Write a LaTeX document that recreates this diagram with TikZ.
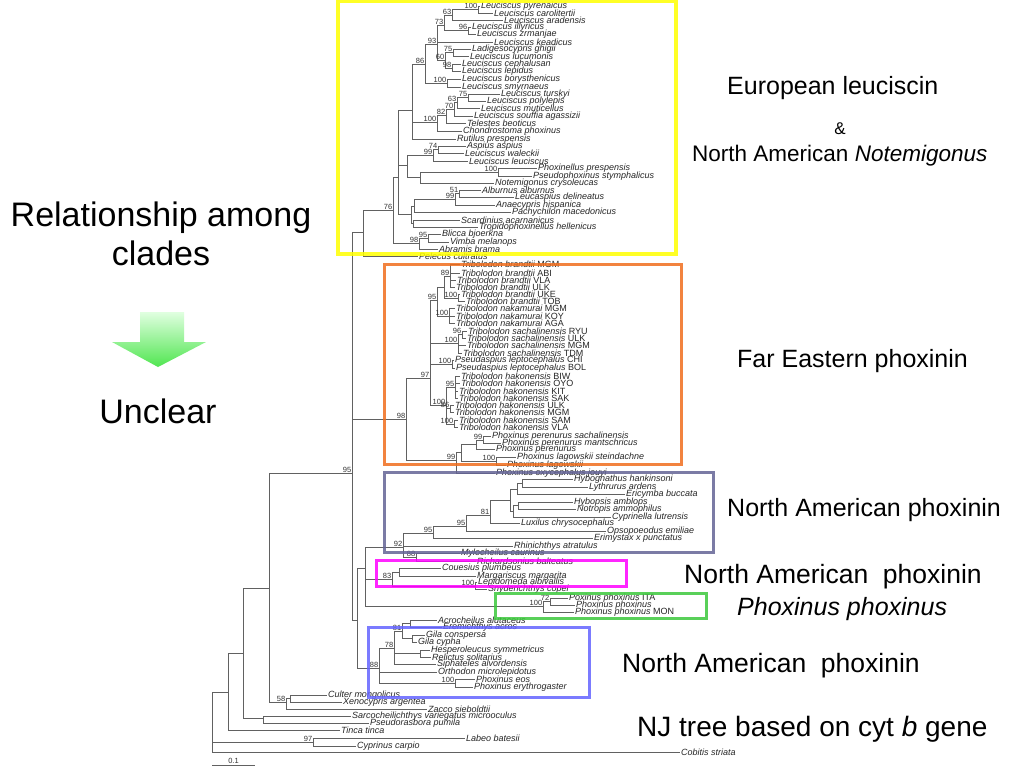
\documentclass[tikz,border=0pt]{standalone}
\usepackage{fontspec}
\setmainfont{Liberation Sans}
\usetikzlibrary{calc}
\definecolor{cyel}{RGB}{255,255,0}
\definecolor{cora}{RGB}{240,110,30}
\definecolor{cpur}{RGB}{100,100,150}
\definecolor{cmag}{RGB}{255,0,255}
\definecolor{cgrn}{RGB}{60,200,60}
\definecolor{cblu}{RGB}{100,100,255}
\newcommand\leafx[5]{\node[leaf] (#1) at (#3,#4) {#5}; \draw[br] (#2) |- (#1.west);}
\newcommand\edgex[2]{\draw[br] (#1) |- (#2);}
\newcommand\bootx[2]{\node[bsn] (#1bs) at (#1) {#2};}
\tikzset{
 br/.style={draw=black!62, line width=0.7pt},
 leaf/.style={anchor=west, inner sep=0.8pt, font=\fontsize{9}{9}\selectfont\itshape, text=black!85},
 bsn/.style={anchor=south east, inner sep=0.6pt, font=\fontsize{7.5}{7.5}\selectfont, text=black!80},
 big/.style={anchor=base west, inner sep=0pt, font=\fontsize{25}{30}\selectfont},
 bigl/.style={anchor=base, inner sep=0pt, font=\fontsize{34}{40}\selectfont},
 clade/.style={line width=3pt, draw opacity=0.85}
}
\begin{document}
\begin{tikzpicture}[x=1pt,y=-1pt]
\useasboundingbox (0,0) rectangle (1024,768);
\fill[white] (0,0) rectangle (1024,768);
% ---------- internal nodes
\coordinate (n100a) at (478,9);
\coordinate (n63) at (452,15);
\coordinate (n96) at (468,30);
\coordinate (n73) at (444,25);
\coordinate (n75) at (453,52);
\coordinate (n98) at (452,68);
\coordinate (n60) at (445,60);
\coordinate (n93) at (437,44);
\coordinate (n100b) at (447,83);
\coordinate (n86) at (425,64);
\coordinate (n75b) at (468,97);
\coordinate (n63b) at (457,102);
\coordinate (n70) at (454,109);
\coordinate (n82) at (446,115);
\coordinate (n100c) at (437,122);
\coordinate (nM) at (412,110);
\coordinate (n74) at (438,149);
\coordinate (n99a) at (433,155);
\coordinate (n100d) at (498,172);
\coordinate (nQ) at (420,177);
\coordinate (nP) at (407,165);
\coordinate (n51) at (459,193);
\coordinate (n99b) at (455,199);
\coordinate (nS) at (414,206);
\coordinate (nT) at (413,223);
\coordinate (nR) at (411,214);
\coordinate (nJ) at (398,177);
\coordinate (n95y) at (428,238);
\coordinate (n98y) at (419,243);
\coordinate (n76) at (393,210);
\coordinate (nG) at (363,232);
\coordinate (nF) at (352,473);
% orange
\coordinate (nB89) at (450,276);
\coordinate (nB100) at (458,298);
\coordinate (nBb) at (444,287);
\coordinate (nN100) at (449,316);
\coordinate (nT95) at (437,300);
\coordinate (nS96) at (462,334);
\coordinate (nS100) at (458,343);
\coordinate (nP100) at (452,364);
\coordinate (nH95) at (455,387);
\coordinate (nH86) at (450,408);
\coordinate (nH100b) at (454,424);
\coordinate (nH100) at (446,405);
\coordinate (nO97) at (430,378);
\coordinate (nP99) at (483,440);
\coordinate (nPp) at (476,444);
\coordinate (nL100) at (496,461);
\coordinate (nPq) at (461,452);
\coordinate (nO99) at (456,460);
\coordinate (nO98) at (406,419);
% purple
\coordinate (nHh) at (522,483);
\coordinate (nHe) at (517,489);
\coordinate (nHn2) at (518,505);
\coordinate (nHn) at (513,511);
\coordinate (nW) at (510,500);
\coordinate (n81) at (490,515);
\coordinate (n95b) at (466,526);
\coordinate (n95a) at (433,533);
\coordinate (n88) at (416,557);
\coordinate (n92) at (403,547);
% magenta / green
\coordinate (n83a) at (399,572);
\coordinate (n100m) at (475,586);
\coordinate (n83) at (392,579);
\coordinate (n72) at (550,601);
\coordinate (n100g) at (543,606);
\coordinate (nV) at (365,568);
% blue
\coordinate (nAE) at (410,623);
\coordinate (nGila) at (412,638);
\coordinate (n81b) at (402,631);
\coordinate (nHR) at (420,653);
\coordinate (n78) at (394,648);
\coordinate (n100e) at (455,683);
\coordinate (n88b) at (379,668);
\coordinate (nU) at (357,620);
% lower
\coordinate (nCX) at (290,698);
\coordinate (nD) at (286,702);
\coordinate (nC) at (269,588);
\coordinate (nSP) at (263,718);
\coordinate (nB) at (243,653);
\coordinate (nA) at (228,692);
\coordinate (n97) at (313,742);
\coordinate (nRoot) at (212,722);
% ---------- internal edges
\edgex{n63}{n100a}
\edgex{n73}{n63} \edgex{n73}{n96}
\edgex{n60}{n75} \edgex{n60}{n98}
\edgex{n93}{n73} \edgex{n93}{n60}
\edgex{n86}{n93} \edgex{n86}{n100b}
\edgex{n63b}{n75b}
\edgex{n70}{n63b}
\edgex{n82}{n70}
\edgex{n100c}{n82}
\edgex{nM}{n86} \edgex{nM}{n100c}
\edgex{n99a}{n74}
\edgex{nQ}{n100d}
\edgex{nP}{n99a} \edgex{nP}{nQ}
\edgex{n99b}{n51}
\edgex{nS}{n99b}
\edgex{nR}{nS} \edgex{nR}{nT}
\edgex{nJ}{nM} \edgex{nJ}{nP} \edgex{nJ}{nR}
\edgex{n98y}{n95y}
\edgex{n76}{nJ} \edgex{n76}{n98y}
\edgex{nG}{n76}
\edgex{nF}{nG} \edgex{nF}{nO98} \edgex{nF}{nU}
\edgex{nBb}{nB89} \edgex{nBb}{nB100}
\edgex{nT95}{nBb} \edgex{nT95}{nN100}
\edgex{nS100}{nS96}
\edgex{nH100}{nH95} \edgex{nH100}{nH86} \edgex{nH100}{nH100b}
\edgex{nO97}{nT95} \edgex{nO97}{nS100} \edgex{nO97}{nP100} \edgex{nO97}{nH100}
\edgex{nPp}{nP99}
\edgex{nPq}{nPp} \edgex{nPq}{nL100}
\edgex{nO99}{nPq}
\edgex{nO98}{nO97} \edgex{nO98}{nO99}
\edgex{nHe}{nHh}
\edgex{nHn}{nHn2}
\edgex{nW}{nHe} \edgex{nW}{nHn}
\edgex{n81}{nW}
\edgex{n95b}{n81}
\edgex{n95a}{n95b}
\edgex{n92}{n95a} \edgex{n92}{n88}
\edgex{n83}{n83a} \edgex{n83}{n100m}
\edgex{n100g}{n72}
\edgex{nV}{n92} \edgex{nV}{n83} \edgex{nV}{n100g}
\edgex{n81b}{nAE} \edgex{n81b}{nGila}
\edgex{n78}{n81b} \edgex{n78}{nHR}
\edgex{n88b}{n78} \edgex{n88b}{n100e}
\edgex{nU}{nV} \edgex{nU}{n88b}
\edgex{nD}{nCX}
\edgex{nC}{nF} \edgex{nC}{nD}
\edgex{nB}{nC} \edgex{nB}{nSP}
\edgex{nA}{nB}
\edgex{nRoot}{nA} \edgex{nRoot}{n97}
% ---------- leaves: yellow
\leafx{l1}{n100a}{480}{6}{Leuciscus pyrenaicus}
\leafx{l2}{n100a}{493}{13}{Leuciscus carolitertii}
\leafx{l3}{n63}{503}{20}{Leuciscus aradensis}
\leafx{l4}{n96}{471}{27}{Leuciscus illyricus}
\leafx{l5}{n96}{476}{34}{Leuciscus zrmanjae}
\leafx{l6}{n93}{493}{42}{Leuciscus keadicus}
\leafx{l7}{n75}{471}{49}{Ladigesocypris ghigii}
\leafx{l8}{n75}{469}{56}{Leuciscus lucumonis}
\leafx{l9}{n98}{461}{64}{Leuciscus cephalusan}
\leafx{l10}{n98}{461}{71}{Leuciscus lepidus}
\leafx{l11}{n100b}{461}{79}{Leuciscus borysthenicus}
\leafx{l12}{n100b}{461}{87}{Leuciscus smyrnaeus}
\leafx{l13}{n75b}{500}{94}{Leuciscus turskyi}
\leafx{l14}{n75b}{486}{101}{Leuciscus polylepis}
\leafx{l15}{n63b}{480}{108}{Leuciscus muticellus}
\leafx{l16}{n70}{473}{116}{Leuciscus souffia agassizii}
\leafx{l17}{n82}{466}{123}{Telestes beoticus}
\leafx{l18}{n100c}{462}{131}{Chondrostoma phoxinus}
\leafx{l19}{nM}{456}{139}{Rutilus prespensis}
\leafx{l20}{n74}{466}{146}{Aspius aspius}
\leafx{l21}{n74}{464}{153}{Leuciscus waleckii}
\leafx{l22}{n99a}{468}{161}{Leuciscus leuciscus}
\leafx{l23}{n100d}{537}{168}{Phoxinellus prespensis}
\leafx{l24}{n100d}{532}{176}{Pseudophoxinus stymphalicus}
\leafx{l25}{nQ}{494}{183}{Notemigonus crysoleucas}
\leafx{l26}{n51}{481}{190}{Alburnus alburnus}
\leafx{l27}{n51}{514}{197}{Leucaspius delineatus}
\leafx{l28}{n99b}{495}{205}{Anaecypris hispanica}
\leafx{l29}{nS}{511}{212}{Pachychilon macedonicus}
\leafx{l30}{nT}{460}{220}{Scardinius acarnanicus}
\leafx{l31}{nT}{478}{227}{Tropidophoxinellus hellenicus}
\leafx{l32}{n95y}{441}{234}{Blicca bjoerkna}
\leafx{l33}{n95y}{449}{242}{Vimba melanops}
\leafx{l34}{n98y}{438}{249}{Abramis brama}
\leafx{l35}{nG}{418}{256}{Pelecus cultratus}
% orange
\leafx{o1}{nB89}{460}{264}{Tribolodon brandtii {\upshape MGM}}
\leafx{o2}{nB89}{460}{273}{Tribolodon brandtii {\upshape ABI}}
\leafx{o3}{nB89}{456}{280}{Tribolodon brandtii {\upshape VLA}}
\leafx{o4}{nB89}{455}{287}{Tribolodon brandtii {\upshape ULK}}
\leafx{o5}{nB100}{460}{294}{Tribolodon brandtii {\upshape UKE}}
\leafx{o6}{nB100}{465}{301}{Tribolodon brandtii {\upshape TOB}}
\leafx{o7}{nN100}{455}{308}{Tribolodon nakamurai {\upshape MGM}}
\leafx{o8}{nN100}{455}{316}{Tribolodon nakamurai {\upshape KOY}}
\leafx{o9}{nN100}{455}{323}{Tribolodon nakamurai {\upshape AGA}}
\leafx{o10}{nS96}{467}{331}{Tribolodon sachalinensis {\upshape RYU}}
\leafx{o11}{nS96}{466}{338}{Tribolodon sachalinensis {\upshape ULK}}
\leafx{o12}{nS100}{466}{345}{Tribolodon sachalinensis {\upshape MGM}}
\leafx{o13}{nS100}{462}{353}{Tribolodon sachalinensis {\upshape TDM}}
\leafx{o14}{nP100}{454}{360}{Pseudaspius leptocephalus {\upshape CHI}}
\leafx{o15}{nP100}{455}{368}{Pseudaspius leptocephalus {\upshape BOL}}
\leafx{o16}{nH95}{460}{376}{Tribolodon hakonensis {\upshape BIW}}
\leafx{o17}{nH95}{460}{383}{Tribolodon hakonensis {\upshape OYO}}
\leafx{o18}{nH95}{458}{391}{Tribolodon hakonensis {\upshape KIT}}
\leafx{o19}{nH95}{458}{398}{Tribolodon hakonensis {\upshape SAK}}
\leafx{o20}{nH86}{454}{405}{Tribolodon hakonensis {\upshape ULK}}
\leafx{o21}{nH86}{454}{412}{Tribolodon hakonensis {\upshape MGM}}
\leafx{o22}{nH100b}{458}{420}{Tribolodon hakonensis {\upshape SAM}}
\leafx{o23}{nH100b}{458}{427}{Tribolodon hakonensis {\upshape VLA}}
\leafx{o24}{nP99}{491}{436}{Phoxinus perenurus sachalinensis}
\leafx{o25}{nP99}{501}{443}{Phoxinus perenurus mantschricus}
\leafx{o26}{nPp}{495}{449}{Phoxinus perenurus}
\leafx{o27}{nL100}{516}{457}{Phoxinus lagowskii steindachne}
\leafx{o28}{nL100}{506}{465}{Phoxinus lagowskii}
\leafx{o29}{nO99}{495}{473}{Phoxinus oxycephalus jouyi}
% purple
\leafx{p1}{nHh}{573}{479}{Hybognathus hankinsoni}
\leafx{p2}{nHh}{588}{487}{Lythrurus ardens}
\leafx{p3}{nHe}{625}{494}{Ericymba buccata}
\leafx{p4}{nHn2}{573}{502}{Hybopsis amblops}
\leafx{p5}{nHn2}{576}{509}{Notropis ammophilus}
\leafx{p6}{nHn}{611}{517}{Cyprinella lutrensis}
\leafx{p7}{n81}{520}{523}{Luxilus chrysocephalus}
\leafx{p8}{n95b}{606}{531}{Opsopoeodus emiliae}
\leafx{p9}{n95a}{593}{538}{Erimystax x punctatus}
\leafx{p10}{n92}{513}{546}{Rhinichthys atratulus}
\leafx{p11}{n88}{460}{553}{Mylocheilus caurinus}
\leafx{p12}{n88}{476}{561}{Richardsonius balteatus}
% magenta
\leafx{m1}{n83a}{441}{568}{Couesius plumbeus}
\leafx{m2}{n83a}{476}{576}{Margariscus margarita}
\leafx{m3}{n100m}{477}{582}{Lepidomeda albivallis}
\leafx{m4}{n100m}{487}{589}{Snyderichthys copei}
% green
\leafx{g1}{n72}{568}{598}{Poxinus phoxinus {\upshape ITA}}
\leafx{g2}{n72}{575}{605}{Phoxinus phoxinus}
\leafx{g3}{n100g}{574}{612}{Phoxinus phoxinus {\upshape MON}}
% blue
\leafx{b1}{nAE}{437}{620}{Acrocheilus alutaceus}
\leafx{b2}{nAE}{442}{627}{Eremichthys acros}
\leafx{b3}{nGila}{425}{635}{Gila conspersa}
\leafx{b4}{nGila}{417}{642}{Gila cypha}
\leafx{b5}{nHR}{430}{650}{Hesperoleucus symmetricus}
\leafx{b6}{nHR}{431}{657}{Relictus solitarius}
\leafx{b7}{n78}{436}{664}{Siphateles alvordensis}
\leafx{b8}{n88b}{437}{672}{Orthodon microlepidotus}
\leafx{b9}{n100e}{475}{679}{Phoxinus eos}
\leafx{b10}{n100e}{473}{687}{Phoxinus erythrogaster}
% lower
\leafx{c1}{nCX}{327}{695}{Culter mongolicus}
\leafx{c2}{nCX}{342}{702}{Xenocypris argentea}
\leafx{c3}{nD}{427}{709}{Zacco sieboldtii}
\leafx{c4}{nSP}{351}{716}{Sarcocheilichthys variegatus microoculus}
\leafx{c5}{nSP}{369}{723}{Pseudorasbora pumila}
\leafx{c6}{nA}{340}{730}{Tinca tinca}
\leafx{c7}{n97}{465}{738}{Labeo batesii}
\leafx{c8}{n97}{356}{746}{Cyprinus carpio}
\leafx{c9}{nRoot}{680}{752}{Cobitis striata}
% ---------- bootstrap values
\bootx{n100a}{100} \bootx{n63}{63} \bootx{n96}{96} \bootx{n73}{73}
\bootx{n93}{93} \bootx{n75}{75} \bootx{n60}{60} \bootx{n98}{98}
\bootx{n86}{86} \bootx{n100b}{100} \bootx{n75b}{75} \bootx{n63b}{63}
\bootx{n70}{70} \bootx{n82}{82} \bootx{n100c}{100} \bootx{n74}{74}
\bootx{n99a}{99} \bootx{n100d}{100} \bootx{n51}{51} \bootx{n99b}{99}
\bootx{n95y}{95} \bootx{n98y}{98} \bootx{n76}{76}
\bootx{nB89}{89} \bootx{nT95}{95} \bootx{nB100}{100} \bootx{nN100}{100}
\bootx{nS96}{96} \bootx{nS100}{100} \bootx{nP100}{100} \bootx{nH95}{95}
\bootx{nH86}{86} \bootx{nH100}{100} \bootx{nH100b}{100} \bootx{nO97}{97}
\bootx{nO98}{98} \bootx{nP99}{99} \bootx{nL100}{100} \bootx{nO99}{99}
\bootx{n81}{81} \bootx{n95b}{95} \bootx{n95a}{95} \bootx{n92}{92} \bootx{n88}{88}
\bootx{n83}{83} \bootx{n100m}{100} \bootx{n72}{72} \bootx{n100g}{100}
\bootx{n81b}{81} \bootx{n78}{78} \bootx{n88b}{88} \bootx{n100e}{100}
\bootx{nD}{58} \bootx{n97}{97} \bootx{nF}{95}
% ---------- scale bar
\coordinate (sbA) at (212,765);
\coordinate (sbB) at (255,765);
\draw[br] (sbA) -- (sbB);
\node[bsn, anchor=south] (sbl) at ($(sbA)!0.5!(sbB)+(0,-1)$) {0.1};
% ---------- clade boxes
\draw[clade, draw=cyel, line width=4pt] (338,1) rectangle (676,254);
\draw[clade, draw=cora] (384,264) rectangle (681,464);
\draw[clade, draw=cpur] (384,472) rectangle (713,552);
\draw[clade, draw=cmag] (376,560) rectangle (626,586);
\draw[clade, draw=cgrn] (495,593) rectangle (706,618);
\draw[clade, draw=cblu] (368,627) rectangle (589,697);
% ---------- labels
\node[big] (t1) at (727,94) {European leuciscin};
\node[big, anchor=base, font=\fontsize{17}{20}\selectfont] (t2) at (840,134) {\&};
\node[big, font=\fontsize{22.5}{26}\selectfont] (t3) at (692,161) {North American \textit{Notemigonus}};
\node[big] (t4) at (737,367) {Far Eastern phoxinin};
\node[big] (t5) at (727,516) {North American phoxinin};
\node[big, font=\fontsize{26.5}{30}\selectfont] (t6) at (684,583) {North American\ \ phoxinin};
\node[big] (t7) at (737,615) {\textit{Phoxinus phoxinus}};
\node[big, font=\fontsize{26.5}{30}\selectfont] (t8) at (622,672) {North American\ \ phoxinin};
\node[big, font=\fontsize{28}{32}\selectfont] (t9) at (637,736) {NJ tree based on cyt \textit{b} gene};
\node[bigl] (t10) at (161,226) {Relationship among};
\node[bigl] (t11) at (161,265) {clades};
\node[bigl] (t12) at (158,423) {Unclear};
% ---------- arrow
\shade[top color=green!12!white, bottom color=green!65!white!90!black]
 (140,312) -- (184,312) -- (184,342) -- (206,342) -- (158,367) -- (112,342) -- (140,342) -- cycle;
\end{tikzpicture}
\end{document}
